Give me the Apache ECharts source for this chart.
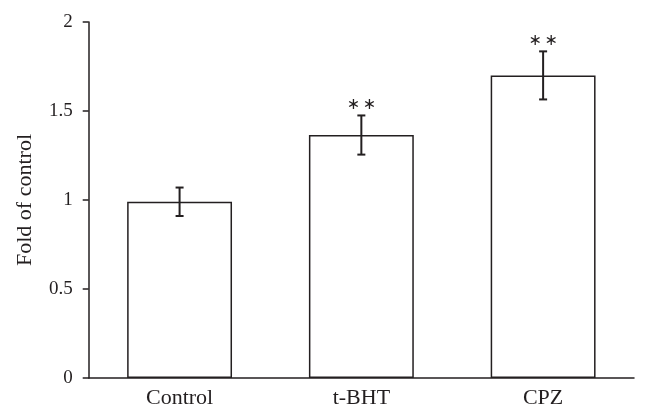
<!DOCTYPE html>
<html>
<head>
<meta charset="utf-8">
<script src="https://cdn.jsdelivr.net/npm/echarts@6/dist/echarts.min.js"></script>
<style>html,body{margin:0;padding:0;background:#fff;}#c{width:648px;height:418px;}</style>
</head>
<body>
<div id="c"></div>
<script>
var categories = ['Control', 't-BHT', 'CPZ'];
var means = [0.99, 1.365, 1.70];
var errors = [0.08, 0.11, 0.135];
var significance = ['', '**', '**'];
var yTicks = [0, 0.5, 1, 1.5, 2];

var FONT = '"Liberation Serif", "DejaVu Serif", serif';
var INK = '#231f20';

var chart = echarts.init(document.getElementById('c'), null, {renderer: 'canvas'});
var errData = means.map(function (m, i) { return [i, m - errors[i], m + errors[i], significance[i]]; });

chart.setOption({
  animation: false,
  backgroundColor: '#fff',
  grid: {left: 88.7, right: 14, top: 22, bottom: 40},
  xAxis: {
    type: 'category',
    data: categories,
    axisLine: {lineStyle: {color: INK, width: 1.5}},
    axisTick: {show: false},
    axisLabel: {color: INK, fontFamily: FONT, fontSize: 22, margin: 9}
  },
  yAxis: {
    type: 'value',
    min: yTicks[0],
    max: yTicks[yTicks.length - 1],
    interval: 0.5,
    name: 'Fold of control',
    nameLocation: 'middle',
    nameGap: 52,
    nameTextStyle: {color: INK, fontFamily: FONT, fontSize: 22},
    splitLine: {show: false},
    axisLine: {show: true, lineStyle: {color: INK, width: 1.5}},
    axisTick: {show: true, length: 6, lineStyle: {color: INK, width: 1.5}},
    axisLabel: {color: INK, fontFamily: FONT, fontSize: 19, margin: 16}
  },
  series: [
    {
      type: 'bar',
      data: means,
      barWidth: '57.7%',
      itemStyle: {color: '#fff', borderColor: INK, borderWidth: 1.5}
    },
    {
      type: 'custom',
      data: errData,
      z: 10,
      renderItem: function (params, api) {
        var x = api.value(0);
        var lo = api.coord([x, api.value(1)]);
        var hi = api.coord([x, api.value(2)]);
        var w = 4;
        var st = {stroke: INK, lineWidth: 2};
        var children = [
          {type: 'line', shape: {x1: lo[0], y1: lo[1], x2: hi[0], y2: hi[1]}, style: st},
          {type: 'line', shape: {x1: lo[0] - w, y1: lo[1], x2: lo[0] + w, y2: lo[1]}, style: st},
          {type: 'line', shape: {x1: hi[0] - w, y1: hi[1], x2: hi[0] + w, y2: hi[1]}, style: st}
        ];
        var s = api.value(3);
        if (s) {
          var n = s.length, gap = 16;
          for (var k = 0; k < n; k++) {
            children.push({
              type: 'text',
              style: {text: '\u2217', x: hi[0] + (k - (n - 1) / 2) * gap, y: hi[1] - 11,
                textAlign: 'center', textVerticalAlign: 'middle',
                fill: INK, font: '16px "DejaVu Sans", sans-serif'}
            });
          }
        }
        return {type: 'group', children: children};
      }
    }
  ]
});
</script>
</body>
</html>
